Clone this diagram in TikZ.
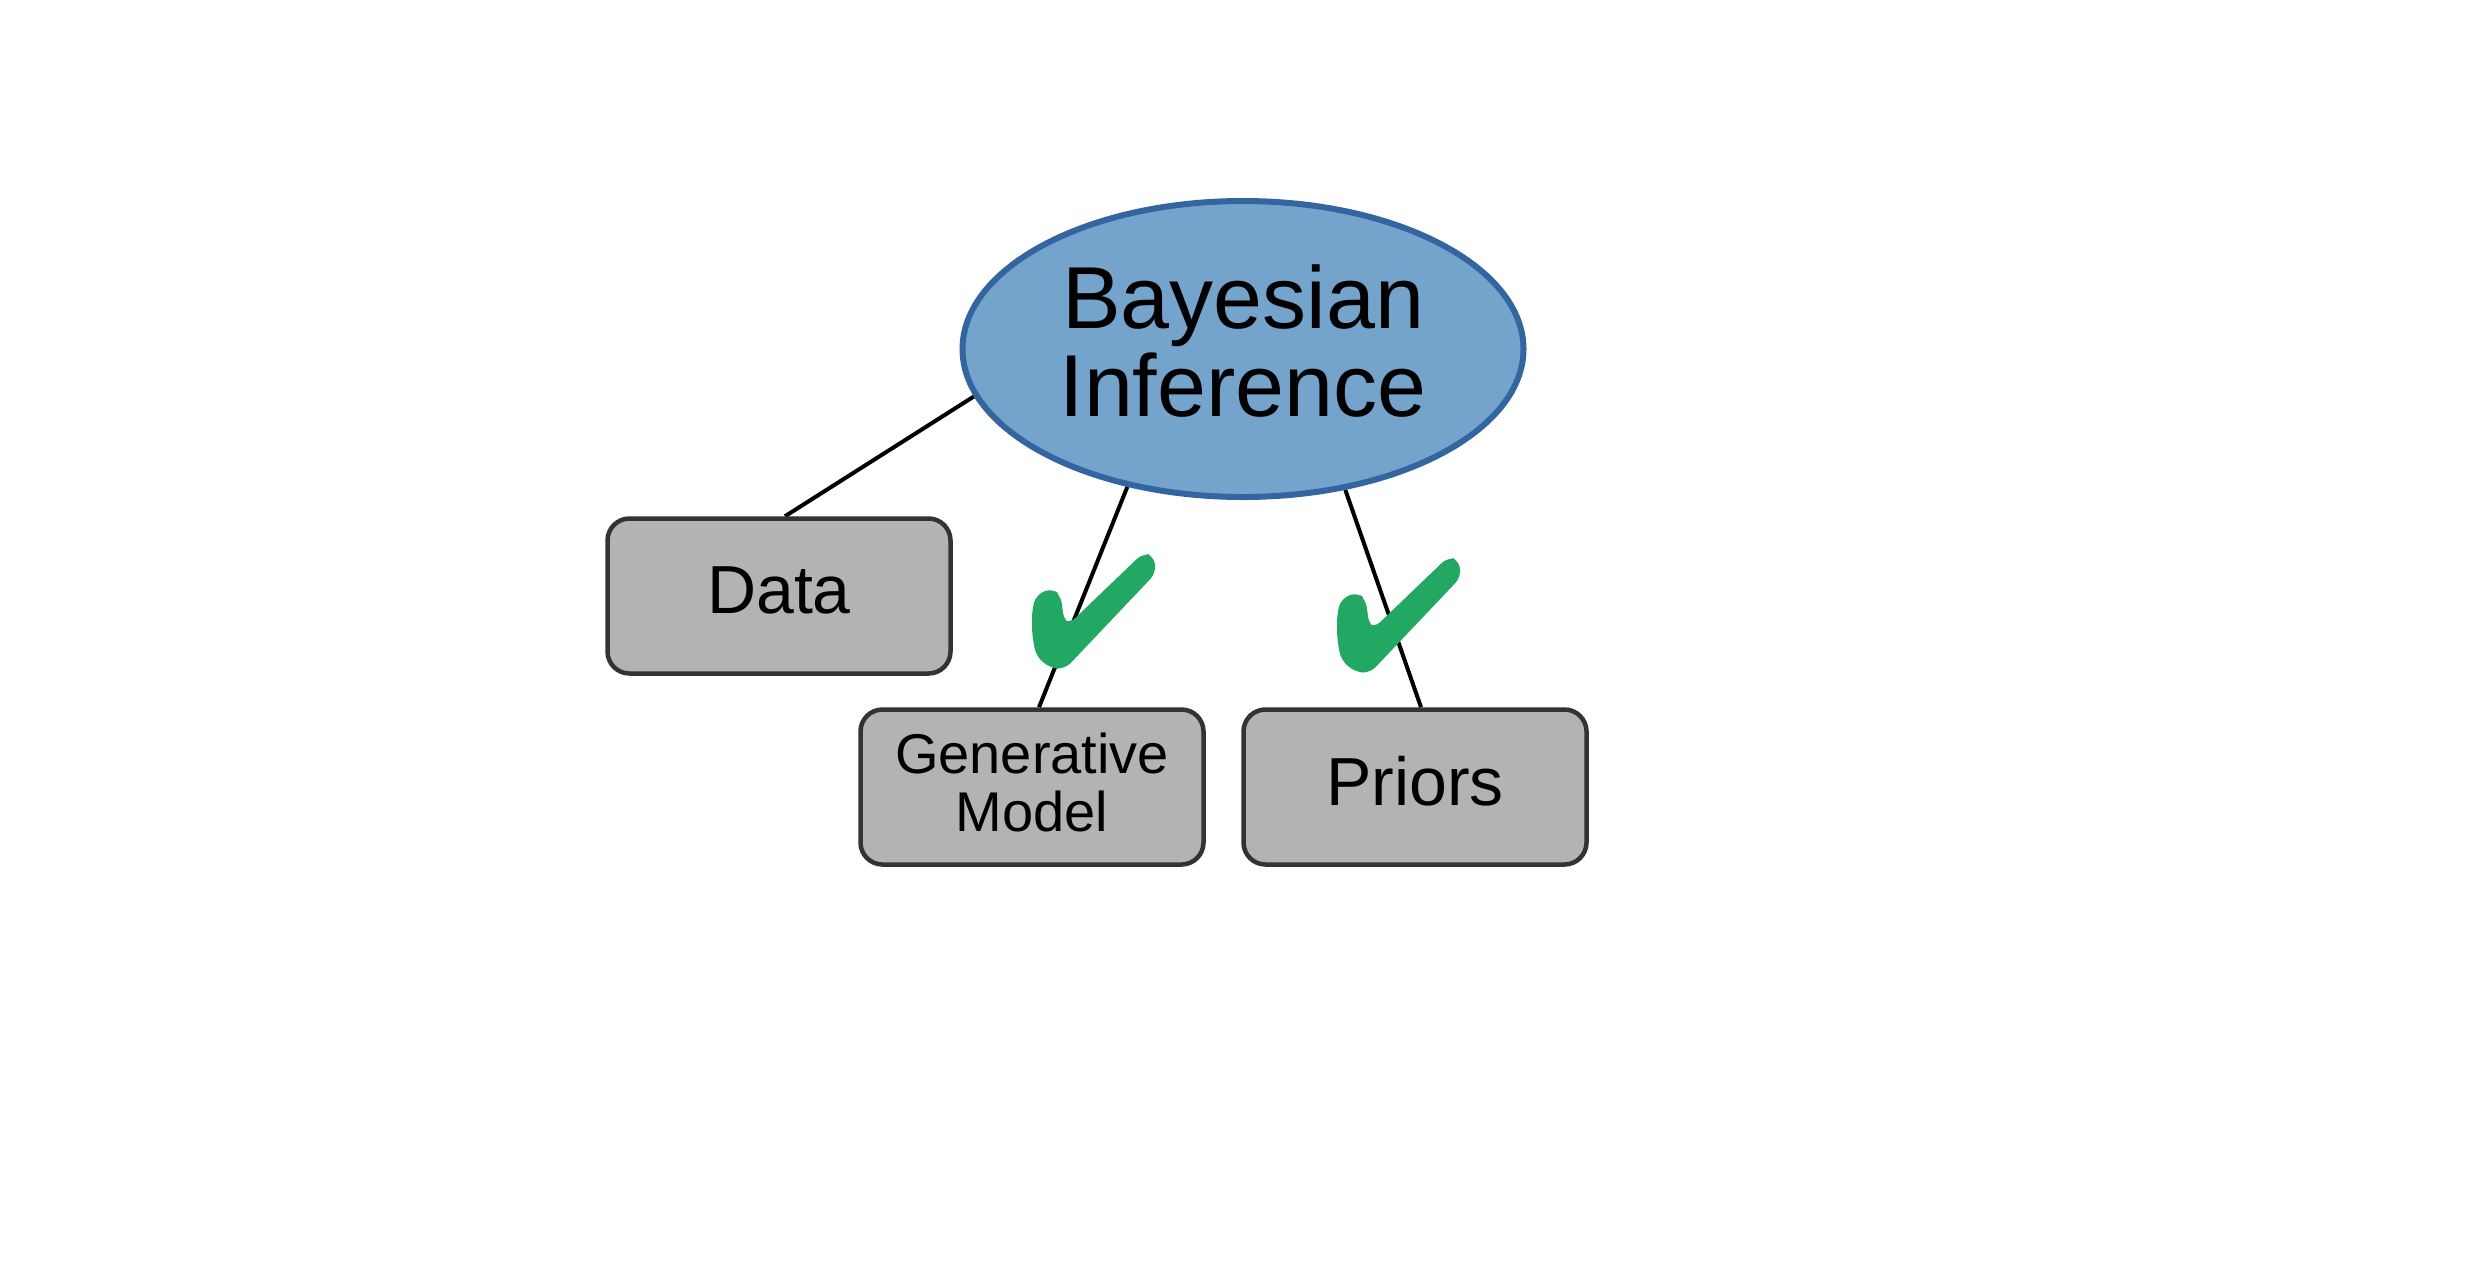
\documentclass[tikz,border=0pt]{standalone}
\usepackage{fontspec}
\setmainfont{Liberation Sans}
\usetikzlibrary{shapes.geometric}
\definecolor{ellfill}{HTML}{74A3CC}
\definecolor{elldraw}{HTML}{3366A0}
\definecolor{boxfill}{HTML}{B3B3B3}
\definecolor{boxdraw}{HTML}{333333}
\definecolor{checkgreen}{HTML}{22A863}
\pgfdeclarelayer{bg}
\pgfsetlayers{bg,main}
\tikzset{
  okmark/.pic={
    \fill[checkgreen, rounded corners=8pt]
      (-23,-56) -- (-19,-71) -- (-3,-78) -- (6,-70) -- (9,-45) -- (14,-42)
      -- (88,-113) -- (99,-110) -- (101,-93) -- (10,3) -- (-5,2)
      -- (-19,-10) -- (-23,-32) -- cycle;
  }
}
\begin{document}
\begin{tikzpicture}[x=1pt,y=-1pt,
  mainell/.style={ellipse, draw=elldraw, fill=ellfill, line width=6pt,
    minimum width=561pt, minimum height=296pt, inner sep=0pt, align=center,
    font=\fontsize{88}{88}\selectfont, text depth=16pt},
  leafbox/.style={rectangle, rounded corners=22pt, draw=boxdraw, fill=boxfill,
    line width=4.5pt, minimum width=343pt, minimum height=155pt, inner sep=0pt,
    align=center},
  link/.style={line width=4pt, black}]
\useasboundingbox (0,0) rectangle (2468,1262);
\node[mainell] (bi) at (1243,349) {Bayesian\\Inference};
\node[leafbox, font=\fontsize{68}{70}\selectfont, text depth=12pt] (data) at (779,596) {Data};
\node[leafbox, font=\fontsize{56}{58}\selectfont, text depth=10pt] (gen) at (1032,787) {Generative\\Model};
\node[leafbox, font=\fontsize{68}{70}\selectfont, text depth=12pt] (pri) at (1415,787) {Priors};
\begin{pgfonlayer}{bg}
\draw[link] (bi.190) -- ([xshift=6pt]data.north);
\draw[link] (bi.230) -- ([xshift=7pt]gen.north);
\draw[link] (bi.306) -- ([xshift=6pt]pri.north);
\end{pgfonlayer}
\pic at (1055,666) {okmark};
\pic at (1360,670) {okmark};
\end{tikzpicture}
\end{document}
